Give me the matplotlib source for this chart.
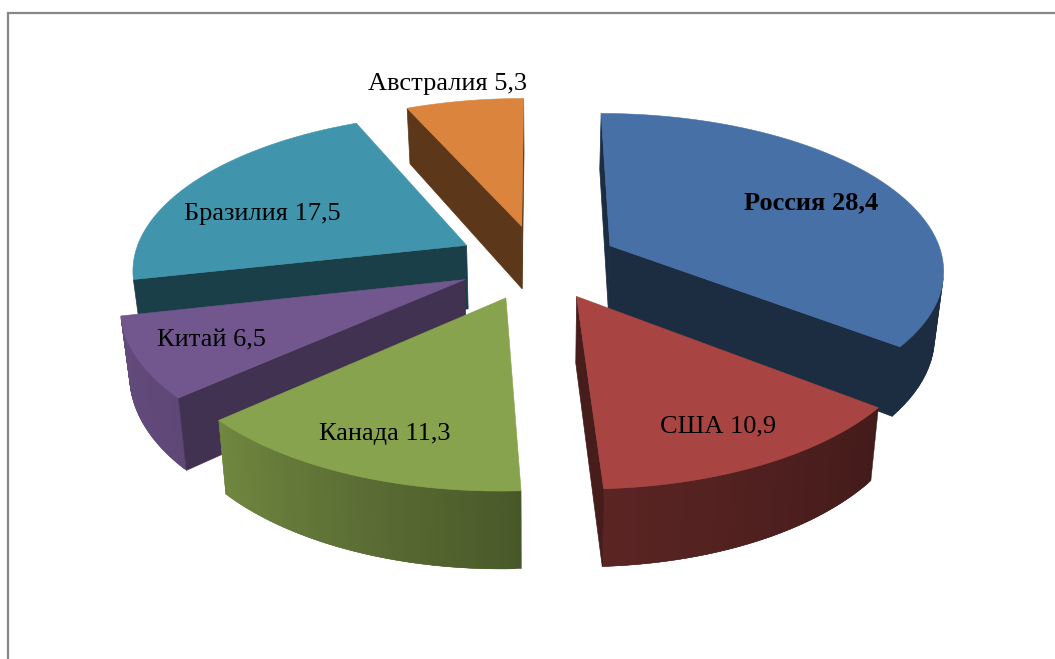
import numpy as np
import matplotlib
matplotlib.use("Agg")
import matplotlib.pyplot as plt
from matplotlib.patches import Polygon
from matplotlib.colors import to_rgb

categories = ["Россия", "США", "Канада", "Китай", "Бразилия", "Австралия"]
values = [28.4, 10.9, 11.3, 6.5, 17.5, 5.3]
value_labels = ["28,4", "10,9", "11,3", "6,5", "17,5", "5,3"]
colors = ["#4670a6", "#a84442", "#87a34d", "#72578f", "#4095ad", "#db843d"]
bold = [True, False, False, False, False, False]
label_xy = [(811, 202.5), (718, 426.5), (385, 434), (211, 340.5), (262, 214), (448, 84)]
face_shade = [0.4, 0.42, 0.55, 0.57, 0.42, 0.42]

CX, CY, RX, RY, EXPL, PERSP, DEPTH, KX = 538, 262, 334, 155, 0.243, 0.14, 64.5, 0.978


def project(X, Y, bottom=False):
    s = 1 / (1 + PERSP * Y)
    k = KX if bottom else 1.0
    return (CX + X * RX * s * k, CY - Y * RY * s + (DEPTH * s if bottom else 0))


def signed_area(pts):
    p = np.array(pts)
    return 0.5 * np.sum(p[:, 0] * np.roll(p[:, 1], -1) - np.roll(p[:, 0], -1) * p[:, 1])


def shade(c, f):
    return tuple(min(1, v * f) for v in to_rgb(c))


def rim_shade(angle):
    return np.interp(np.degrees(angle), [90, 128, 177, 228, 257, 270], [0.4, 0.4, 0.54, 0.83, 0.87, 0.42])


fig = plt.figure(figsize=(10.55, 6.59), dpi=100)
ax = fig.add_axes([0, 0, 1, 1])
ax.set_xlim(0, 1055)
ax.set_ylim(659, 0)
ax.axis("off")

ax.plot([8, 8, 1055], [659, 13, 13], color="#868686", lw=1.6, solid_joinstyle="miter")

total = sum(values)
edges = np.concatenate([[0], np.cumsum(values)]) / total * 2 * np.pi
order = sorted(range(len(values)), key=lambda i: -np.cos((edges[i] + edges[i + 1]) / 2))

for i in order:
    a0, a1 = edges[i], edges[i + 1]
    mid = (a0 + a1) / 2
    ox, oy = EXPL * np.sin(mid), EXPL * np.cos(mid)
    c = colors[i]
    th = np.linspace(a0, a1, 60)
    rim = [(ox + np.sin(t), oy + np.cos(t)) for t in th]
    apex = (ox, oy)
    # rim, shaded along its length; each strip overlaps the next to hide seams
    for j in range(len(th) - 1):
        k = min(j + 2, len(th) - 1)
        poly = [project(*rim[j]), project(*rim[k]), project(*rim[k], True), project(*rim[j], True)]
        if signed_area(poly) < 0:
            col = shade(c, rim_shade((th[j] + th[j + 1]) / 2))
            ax.add_patch(Polygon(poly, closed=True, fc=col, ec=col, lw=0.3))
    # radial faces, hidden ones culled by their screen orientation
    for (pt, sign) in ((rim[0], -1), (rim[-1], 1)):
        poly = [project(*apex), project(*pt), project(*pt, True), project(*apex, True)]
        if signed_area(poly) * sign > 0:
            col = shade(c, face_shade[i])
            ax.add_patch(Polygon(poly, closed=True, fc=col, ec=col, lw=0.5))
    top = [project(*apex)] + [project(*p) for p in rim]
    ax.add_patch(Polygon(top, closed=True, fc=c, ec=c, lw=0.4))

for name, val, xy, b in zip(categories, value_labels, label_xy, bold):
    ax.text(xy[0], xy[1], f"{name} {val}", family="Liberation Serif", fontsize=19,
            ha="center", va="center", color="black", weight="bold" if b else "normal", zorder=50)

fig.savefig("out.png", dpi=100)
